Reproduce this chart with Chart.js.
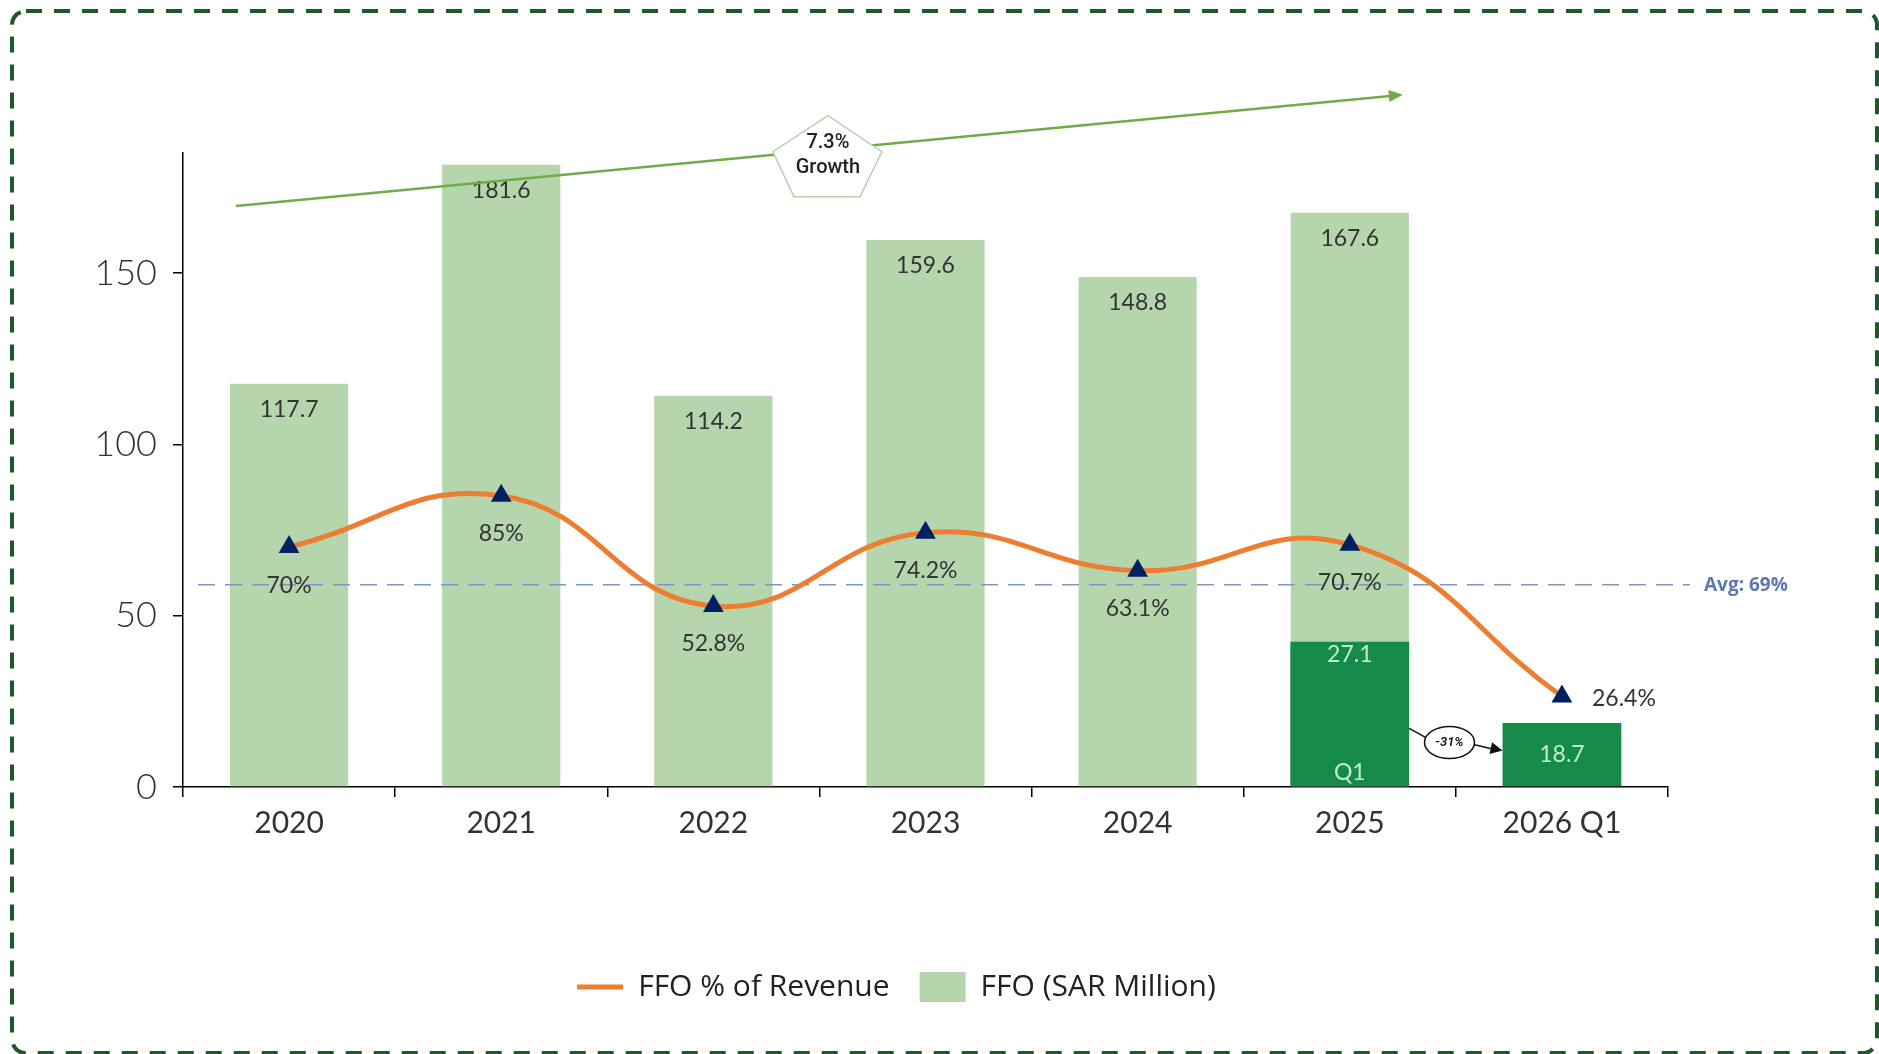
<!DOCTYPE html>
<html lang="en">
<head>
<meta charset="UTF-8">
<title>FFO chart</title>
<script src="https://cdn.jsdelivr.net/npm/chart.js"></script>
<style>
    html, body { margin: 0; padding: 0; background: #fff; }
    .wrap { width: 1879px; height: 1054px; position: relative; }
</style>
</head>
<body>
<div class="wrap"><canvas id="ffoChart"></canvas></div>
<script>
// chart data
const categories = ['2020', '2021', '2022', '2023', '2024', '2025', '2026 Q1'];
const ffoValues = [117.7, 181.6, 114.2, 159.6, 148.8, 167.6, null];
const q1Heights = [null, null, null, null, null, 42.4, 18.7];   // bar heights as drawn in the picture
const q1Labels = ['', '', '', '', '', '27.1', '18.7'];
const ffoPctRevenue = [70, 85, 52.8, 74.2, 63.1, 70.7, 26.4];
const yTicks = [0, 50, 100, 150];
const avgLineValue = 59;          // where the dashed average line sits on the axis
const avgLabel = 'Avg: 69%';
const growthText = ['7.3%', 'Growth'];
const growthArrow = [{ x: -0.25, y: 169.5 }, { x: 5.25, y: 202 }];  // category index / axis units
const growthBadge = { x: 2.54, y: 184.5 };
const q1Change = { text: '-31%', x: 5.47, y: 13 };

const ORANGE = '#ED7D31';
const NAVY = '#002060';
const LIGHT_GREEN = '#b5d6ad';
const DARK_GREEN = '#168a48';
const FONT = 'Lato, "DejaVu Sans", sans-serif';

// dashed frame round the whole picture
const framePlugin = {
    id: 'frame',
    beforeDraw(chart) {
        const ctx = chart.ctx;
        ctx.save();
        ctx.strokeStyle = '#1d5a2a';
        ctx.lineWidth = 4;
        ctx.setLineDash([16, 12]);
        ctx.beginPath();
        ctx.roundRect(12, 11, 1865, 1042, 14);
        ctx.stroke();
        ctx.restore();
    }
};

// keep the legend centred under the plot, not under the whole canvas
const legendShift = {
    id: 'legendShift',
    afterLayout(chart) {
        if (chart.legend) chart.legend.left += 62;
    }
};

// average line, drawn just under the orange line
const avgPlugin = {
    id: 'avgLine',
    beforeDatasetDraw(chart, args) {
        if (args.index !== 0) return;
        const { ctx, chartArea, scales: { y } } = chart;
        const py = y.getPixelForValue(avgLineValue);
        ctx.save();
        ctx.strokeStyle = '#7f97c6';
        ctx.lineWidth = 1.6;
        ctx.setLineDash([17, 10]);
        ctx.beginPath();
        ctx.moveTo(chartArea.left + 15, py);
        ctx.lineTo(chartArea.right + 22, py);
        ctx.stroke();
        ctx.setLineDash([]);
        ctx.fillStyle = '#5b78b4';
        ctx.font = '700 19px "Open Sans", sans-serif';
        ctx.textAlign = 'left';
        ctx.textBaseline = 'middle';
        ctx.fillText(avgLabel, chartArea.right + 36, py + 1);
        ctx.restore();
    }
};

function arrowHead(ctx, from, to, len, half) {
    const a = Math.atan2(to.y - from.y, to.x - from.x);
    ctx.beginPath();
    ctx.moveTo(to.x, to.y);
    ctx.lineTo(to.x - len * Math.cos(a) + half * Math.sin(a), to.y - len * Math.sin(a) - half * Math.cos(a));
    ctx.lineTo(to.x - len * Math.cos(a) - half * Math.sin(a), to.y - len * Math.sin(a) + half * Math.cos(a));
    ctx.closePath();
    ctx.fill();
}

// value labels and the two callouts
const labelPlugin = {
    id: 'labels',
    afterDatasetsDraw(chart) {
        const { ctx, scales: { x, y } } = chart;
        const lineMeta = chart.getDatasetMeta(0);
        const q1Meta = chart.getDatasetMeta(1);
        const ffoMeta = chart.getDatasetMeta(2);
        ctx.save();
        ctx.textAlign = 'center';
        ctx.textBaseline = 'middle';

        // light bars
        ctx.font = '23px ' + FONT;
        ctx.fillStyle = '#333';
        ffoMeta.data.forEach((bar, i) => {
            if (ffoValues[i] == null) return;
            ctx.fillText(ffoValues[i].toFixed(1), bar.x, bar.y + 26);
        });

        // dark Q1 bars
        ctx.fillStyle = '#bff0c9';
        q1Meta.data.forEach((bar, i) => {
            if (q1Heights[i] == null) return;
            if (i === 5) {
                ctx.fillText(q1Labels[i], bar.x, bar.y + 13);
                ctx.fillText('Q1', bar.x, bar.base - 14);
            } else {
                ctx.fillText(q1Labels[i], bar.x, (bar.y + bar.base) / 2);
            }
        });

        // percentage labels
        ctx.fillStyle = '#333';
        lineMeta.data.forEach((pt, i) => {
            const txt = ffoPctRevenue[i] + '%';
            if (i === categories.length - 1) {
                ctx.fillText(txt, pt.x + 62, pt.y + 2);
            } else {
                ctx.fillText(txt, pt.x, pt.y + 38);
            }
        });

        // growth arrow with pentagon badge
        const g0 = { x: x.getPixelForValue(growthArrow[0].x), y: y.getPixelForValue(growthArrow[0].y) };
        const g1 = { x: x.getPixelForValue(growthArrow[1].x), y: y.getPixelForValue(growthArrow[1].y) };
        ctx.strokeStyle = '#70ad47';
        ctx.fillStyle = '#70ad47';
        ctx.lineWidth = 2.5;
        ctx.beginPath();
        ctx.moveTo(g0.x, g0.y);
        ctx.lineTo(g1.x - 10, g1.y + 1);
        ctx.stroke();
        arrowHead(ctx, g0, g1, 14, 6);

        const bx = x.getPixelForValue(growthBadge.x);
        const by = y.getPixelForValue(growthBadge.y);
        ctx.beginPath();
        ctx.moveTo(bx, by - 39);
        ctx.lineTo(bx + 54, by - 3);
        ctx.lineTo(bx + 32, by + 42);
        ctx.lineTo(bx - 34, by + 42);
        ctx.lineTo(bx - 55, by - 3);
        ctx.closePath();
        ctx.fillStyle = '#fff';
        ctx.fill();
        ctx.strokeStyle = '#b9cfae';
        ctx.lineWidth = 1.5;
        ctx.stroke();
        ctx.fillStyle = '#222';
        ctx.font = '500 20px Roboto, sans-serif';
        ctx.fillText(growthText[0], bx, by - 12);
        ctx.fillText(growthText[1], bx, by + 13);

        // -31% callout between the Q1 bars
        const cx = x.getPixelForValue(q1Change.x);
        const cy = y.getPixelForValue(q1Change.y);
        const b25 = q1Meta.data[5];
        const b26 = q1Meta.data[6];
        const rx = 25, ry = 16;
        ctx.strokeStyle = '#111';
        ctx.fillStyle = '#111';
        ctx.lineWidth = 1.5;
        ctx.beginPath();
        ctx.moveTo(b25.x + b25.width / 2, cy - 14);
        ctx.lineTo(cx - rx + 1, cy - 5);
        ctx.stroke();
        const a0 = { x: cx + rx - 1, y: cy + 2 };
        const a1 = { x: b26.x - b26.width / 2, y: cy + 8 };
        ctx.beginPath();
        ctx.moveTo(a0.x, a0.y);
        ctx.lineTo(a1.x - 8, a1.y - 1);
        ctx.stroke();
        arrowHead(ctx, a0, a1, 12, 6);
        ctx.beginPath();
        ctx.ellipse(cx, cy, rx, ry, 0, 0, Math.PI * 2);
        ctx.fillStyle = '#fff';
        ctx.fill();
        ctx.stroke();
        ctx.fillStyle = '#111';
        ctx.font = 'italic 600 13px Roboto, sans-serif';
        ctx.fillText(q1Change.text, cx, cy);

        ctx.restore();
    }
};

Chart.defaults.font.family = FONT;

new Chart(document.getElementById('ffoChart'), {
    type: 'bar',
    data: {
        labels: categories,
        datasets: [
            {
                type: 'line',
                label: 'FFO % of Revenue',
                data: ffoPctRevenue,
                borderColor: ORANGE,
                backgroundColor: ORANGE,
                borderWidth: 5,
                tension: 0.45,
                pointStyle: 'triangle',
                pointRadius: 12,
                pointBackgroundColor: NAVY,
                pointBorderColor: NAVY,
                pointBorderWidth: 0,
                order: 0
            },
            {
                label: 'FFO Q1',
                data: q1Heights,
                backgroundColor: DARK_GREEN,
                grouped: false,
                categoryPercentage: 1,
                barPercentage: 0.56,
                order: 1
            },
            {
                label: 'FFO (SAR Million)',
                data: ffoValues,
                backgroundColor: LIGHT_GREEN,
                grouped: false,
                categoryPercentage: 1,
                barPercentage: 0.557,
                order: 2
            }
        ]
    },
    options: {
        responsive: true,
        maintainAspectRatio: false,
        animation: false,
        events: [],
        layout: { padding: { left: 63, right: 211, top: 153, bottom: 42 } },
        scales: {
            x: {
                grid: { display: true, drawOnChartArea: false, drawTicks: true, tickLength: 10, color: '#000', lineWidth: 1.5, offset: true },
                border: { display: true, color: '#000', width: 1.5 },
                ticks: { font: { size: 30 }, color: '#333', padding: 8 },
                afterFit: (s) => { s.height = 155; }
            },
            y: {
                min: 0,
                max: 185,
                grid: { drawOnChartArea: false, tickLength: 10, color: '#000', lineWidth: 1.5 },
                border: { display: true, color: '#000', width: 1.5 },
                ticks: { font: { size: 36, weight: '300' }, color: '#333', padding: 16 },
                afterBuildTicks: (axis) => { axis.ticks = yTicks.map(v => ({ value: v })); },
                afterFit: (s) => { s.width = 120; }
            }
        },
        plugins: {
            tooltip: { enabled: false },
            legend: {
                position: 'bottom',
                labels: {
                    usePointStyle: true,
                    pointStyleWidth: 46,
                    boxHeight: 34,
                    padding: 30,
                    color: '#222',
                    font: { family: '"Open Sans", sans-serif', size: 30 },
                    generateLabels(chart) {
                        const items = Chart.defaults.plugins.legend.labels.generateLabels(chart);
                        return items.filter(it => it.datasetIndex !== 1).map(it => {
                            if (it.datasetIndex === 0) {
                                it.pointStyle = 'line';
                                it.strokeStyle = ORANGE;
                                it.lineWidth = 5;
                            } else {
                                it.pointStyle = 'rect';
                                it.lineWidth = 0;
                            }
                            return it;
                        });
                    }
                }
            }
        }
    },
    plugins: [framePlugin, legendShift, avgPlugin, labelPlugin]
});
</script>
</body>
</html>
